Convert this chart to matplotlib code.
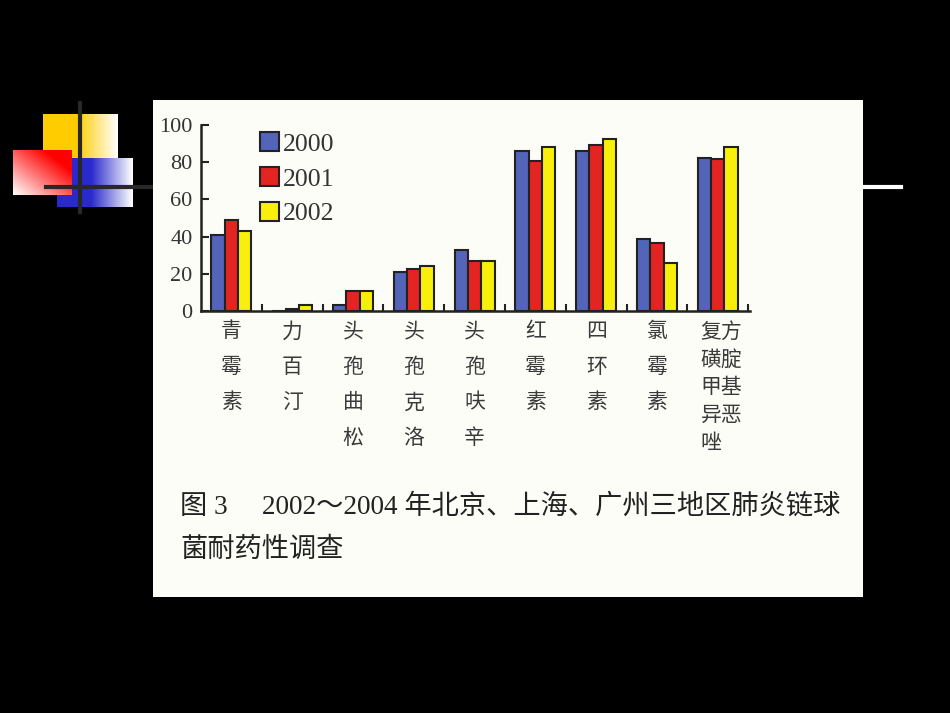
import numpy as np
import matplotlib.pyplot as plt
from matplotlib.transforms import blended_transform_factory
from matplotlib.colors import to_rgb

# data
categories = ['青\n霉\n素', '力\n百\n汀', '头\n孢\n曲\n松', '头\n孢\n克\n洛', '头\n孢\n呋\n辛',
              '红\n霉\n素', '四\n环\n素', '氯\n霉\n素', '复方\n磺腚\n甲基\n异恶\n唑']
years = ['2000', '2001', '2002']
y2000 = [41, 0, 3, 21, 33, 86, 86, 38.5, 82.5]
y2001 = [49, 1, 10.5, 22.5, 27, 80.5, 89.5, 36.5, 81.5]
y2002 = [43, 3.3, 10.5, 24, 27, 88, 92.5, 26, 88]
colors = ['#5464b8', '#e42420', '#f8f00c']
yticks = [0, 20, 40, 60, 80, 100]
caption = ['图 3\u3000 2002～2004 年北京、上海、广州三地区肺炎链球', '菌耐药性调查']

serif = ['Liberation Serif', 'DejaVu Serif']
cjk = ['Liberation Serif', 'Noto Sans CJK SC', 'DejaVu Sans']

W, H = 950, 713
fig = plt.figure(figsize=(9.5, 7.13), dpi=100, facecolor='black')

# slide background layer in pixel coordinates
bg = fig.add_axes([0, 0, 1, 1], zorder=0)
bg.set_xlim(0, W)
bg.set_ylim(H, 0)
bg.axis('off')
bg.set_facecolor('black')


def grad(c, kind):
    n = 64
    c = np.array(to_rgb(c))
    if kind == 'h':  # solid on left, fading to white on right
        t = np.clip((np.linspace(0, 1, n) - 0.45) / 0.55, 0, 1)[None, :].repeat(n, 0)
    else:  # diagonal: white bottom-left to colour top-right
        xx, yy = np.meshgrid(np.linspace(0, 1, n), np.linspace(0, 1, n))
        t = np.clip(1 - (xx + (1 - yy)) / 2 * 1.3, 0, 1)
    img = c[None, None, :] * (1 - t[..., None]) + t[..., None]
    return img


bg.imshow(grad('#ffcc00', 'h'), extent=(43, 118, 187, 114), aspect='auto', zorder=1)
bg.imshow(grad('#2a2acc', 'h'), extent=(57, 133, 207, 158), aspect='auto', zorder=2)
bg.imshow(grad('#ff0000', 'd'), extent=(13, 72, 195, 150), aspect='auto', zorder=3)
bg.plot([80, 80], [103, 212], color='#282828', lw=3, zorder=4)
bg.plot([46, 153], [187, 187], color='#282828', lw=3, zorder=4)
bg.plot([863, 901], [187, 187], color='white', lw=3, zorder=4)
bg.add_patch(plt.Rectangle((153, 100), 710, 497, facecolor='#fdfdf8', edgecolor='none', zorder=5))

for i, line in enumerate(caption):
    bg.text(180, 507 + 43 * i, line, fontsize=19.6, family=cjk, color='#222222',
            fontweight='medium', ha='left', va='center', zorder=6)

# chart
ax = fig.add_axes([201 / W, 1 - 311 / H, 549 / W, 186 / H], zorder=2)
ax.patch.set_alpha(0)
x = np.arange(len(categories)) + 0.5
bw = 0.22
for k, (vals, lab) in enumerate(zip([y2000, y2001, y2002], years)):
    ax.bar(x + (k - 1) * bw, vals, bw, color=colors[k], edgecolor='#222222',
           linewidth=1.5, label=lab)

ax.set_xlim(0, len(categories) + 0.03)
ax.set_ylim(0, 100)
ax.set_yticks(yticks)
ax.set_xticks(np.arange(1, len(categories) + 1))
ax.set_xticklabels([])
ax.tick_params(axis='y', direction='in', length=6, width=1.5, color='#222222',
               pad=6, labelsize=16, labelcolor='#333333')
ax.tick_params(axis='x', direction='in', length=5, width=1.5, color='#222222')
for lbl in ax.get_yticklabels():
    lbl.set_family(serif)
for s in ['top', 'right']:
    ax.spines[s].set_visible(False)
for s in ['left', 'bottom']:
    ax.spines[s].set_linewidth(1.8)
    ax.spines[s].set_color('#222222')

tr = blended_transform_factory(ax.transData, ax.transAxes)
for xi, cat in zip(x, categories):
    ls = 1.35 if cat.count('\n') > 3 else 1.8
    ax.text(xi + (0.06 if ls < 1.5 else 0), -0.05, cat, transform=tr, ha='center', va='top',
            multialignment='left', fontsize=15, family=['Noto Sans CJK SC'],
            color='#3a3a3a', linespacing=ls)

ax.legend(loc='upper left', bbox_to_anchor=(0.108, 0.96), frameon=False,
          prop={'family': serif, 'size': 18.5}, handlelength=0.74, handleheight=0.74,
          handletextpad=0.12, labelspacing=0.45, borderpad=0, borderaxespad=0,
          labelcolor='#333333')

fig.savefig('out.png', dpi=100, facecolor='black')
